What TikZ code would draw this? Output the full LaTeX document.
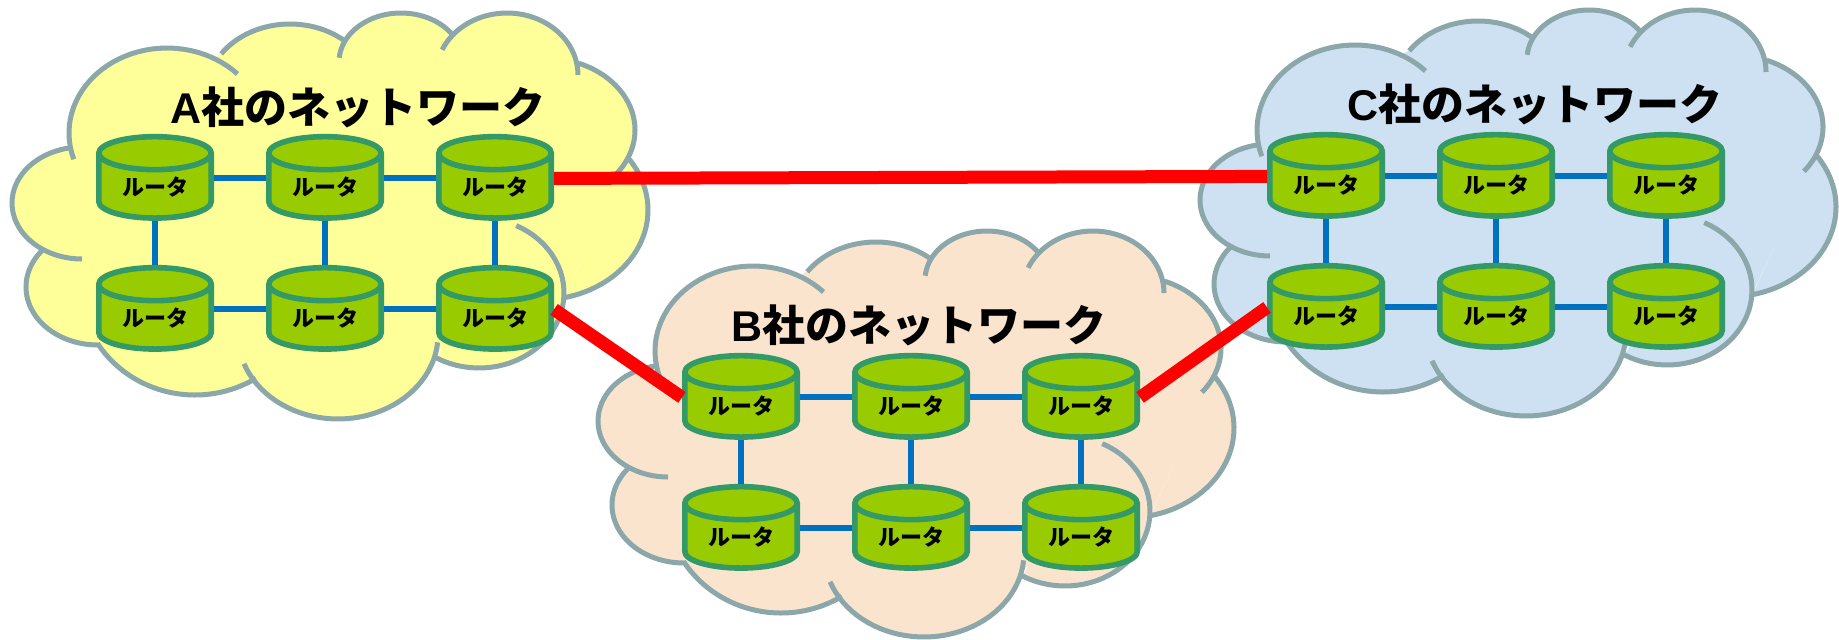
\documentclass[tikz,border=0pt]{standalone}
\usepackage{fontspec}
\setmainfont{Liberation Sans}
\newfontfamily\jpfont{Noto Sans CJK JP}
\usetikzlibrary{
positioning,
shapes.geometric
}
\definecolor{cloudedge}{HTML}{8BA7AA}
\definecolor{cloudA}{HTML}{FFFF99}
\definecolor{cloudB}{HTML}{FBE4CE}
\definecolor{cloudC}{HTML}{CEE1F2}
\definecolor{routerfill}{HTML}{99CC00}
\definecolor{routeredge}{HTML}{339966}
\definecolor{linkblue}{HTML}{0070C0}
\tikzset{
	router/.style={draw=routeredge,fill=routerfill,line width=2.8pt,cylinder,shape border rotate=90,aspect=0.5,minimum width=56.2pt,minimum height=40.7pt,inner sep=0pt,font=\fontsize{11}{11}\bfseries\jpfont},
	netlabel/.style={font=\fontsize{21.5}{21.5}\bfseries},
	intralink/.style={draw=linkblue,line width=3pt},
	interlink/.style={draw=red,line width=6.5pt}
}
\newcommand{\linkup}{4.3pt}
% center x, center y, x radius, y radius, from angle, to angle
\newcommand{\bump}[6]{plot[domain=#5:#6,samples=40] ({#1+#3*cos(\x)},{#2-#4*sin(\x)})}
% one arc per bump of the cloud, in pixels of the left cloud
\newcommand{\cloudarcs}{
	\bump{82}{203}{70}{56}{100}{270}
	\bump{98}{287}{72}{58}{140}{270}
	\bump{195}{285}{115}{110}{212}{302}
	\bump{338}{335}{100}{84}{200}{355}
	\bump{479}{293}{85}{75}{240}{424}
	\bump{540}{210}{108}{90}{283}{395}
	\bump{545}{130}{90}{72}{-38}{68}
	\bump{507}{75}{71}{62}{0}{156}
	\bump{401}{62}{62}{49}{36}{175}
	\bump{290}{94}{84}{70}{51}{145}
	\bump{167}{133}{98}{85}{44}{198}
}
\newcommand{\netcloud}[3]{
	\begin{scope}[shift={(#1,#2)}]
		\filldraw[#3,line width=1pt] (69,147) -- (43,253) -- (98,345) -- (256,380) -- (436,350) -- (564,295) -- (629,157) -- (579,63) -- (451,33) -- (342,40) -- (222,54) -- cycle;
		\filldraw[#3,line width=1pt] \cloudarcs;
		\draw[cloudedge,line width=2.5pt] \cloudarcs;
	\end{scope}
}
\newcommand{\netrouters}[3]{
	\node[router] (#11) at (#2,#3) {ルータ};
	\node[router,right=of #11] (#12) {ルータ};
	\node[router,right=of #12] (#13) {ルータ};
	\node[router,below=of #11] (#14) {ルータ};
	\node[router,right=of #14] (#15) {ルータ};
	\node[router,right=of #15] (#16) {ルータ};
	\draw[intralink] ([yshift=\linkup]#11.east) -- ([yshift=\linkup]#12.west);
	\draw[intralink] ([yshift=\linkup]#12.east) -- ([yshift=\linkup]#13.west);
	\draw[intralink] ([yshift=\linkup]#14.east) -- ([yshift=\linkup]#15.west);
	\draw[intralink] ([yshift=\linkup]#15.east) -- ([yshift=\linkup]#16.west);
	\draw[intralink] (#11) -- (#14);
	\draw[intralink] (#12) -- (#15);
	\draw[intralink] (#13) -- (#16);
}

\begin{document}
\begin{tikzpicture}[x=0.5pt,y=-0.5pt,node distance=22pt and 26pt]
	\useasboundingbox (0,0) rectangle (1839,639);
	
	\netcloud{0}{0}{cloudA}
	\netcloud{1188}{-3}{cloudC}
	\netcloud{586}{218}{cloudB}
	
	\node[netlabel] (labela) at (358,107) {A{\jpfont 社のネットワーク}};
	\node[netlabel] (labelb) at (919,325) {B{\jpfont 社のネットワーク}};
	\node[netlabel] (labelc) at (1535,104) {C{\jpfont 社のネットワーク}};
	
	\netrouters{a}{155}{187}
	\netrouters{b}{741}{406}
	\netrouters{c}{1326}{185}
	
	\draw[interlink] ([yshift=\linkup]a3.east) -- ([yshift=\linkup]c1.west);
	\draw[interlink] ([yshift=\linkup]a6.east) -- ([yshift=\linkup]b1.west);
	\draw[interlink] ([yshift=\linkup]b3.east) -- ([yshift=\linkup]c4.west);
\end{tikzpicture}
\end{document}
